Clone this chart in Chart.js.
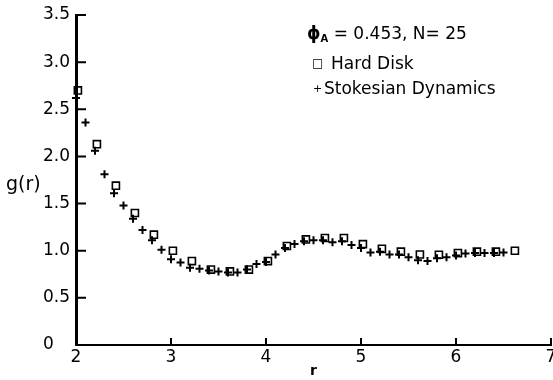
<!DOCTYPE html>
<html>
<head>
<meta charset="utf-8">
<script src="https://cdn.jsdelivr.net/npm/chart.js@4"></script>
<style>
  body { margin: 0; background: #fff; overflow: hidden; }
  #wrap { position: relative; width: 565px; height: 380px; }
  .lbl { position: absolute; font-family: "DejaVu Sans", sans-serif; color: #000; white-space: nowrap; }
  #ytitle { left: 6px; top: 172px; font-size: 19px; }
  #legend { left: 307px; top: 21px; font-size: 17px; line-height: 25px; }
  #legend .phi { font-weight: bold; }
  #legend sub { font-size: 10px; font-weight: bold; vertical-align: -3px; }
  #legend .sq { display: inline-block; width: 19px; margin-left: 5px; font-size: 12px; vertical-align: 2px; }
  #legend .pl { display: inline-block; width: 11px; margin-left: 6px; font-size: 11px; vertical-align: 2px; }
</style>
</head>
<body>
<div id="wrap">
  <canvas id="gr"></canvas>
  <div class="lbl" id="ytitle">g(r)</div>
  <div class="lbl" id="legend">
    <div><span class="phi">ϕ</span><sub>A</sub> = 0.453, N= 25</div>
    <div><span class="sq">□</span>Hard Disk</div>
    <div><span class="pl">+</span>Stokesian Dynamics</div>
  </div>
</div>
<script>
// hard disk g(r)
const hardR = [2.02, 2.22, 2.42, 2.62, 2.82, 3.02, 3.22, 3.42, 3.62, 3.82, 4.02, 4.22,
               4.42, 4.62, 4.82, 5.02, 5.22, 5.42, 5.62, 5.82, 6.02, 6.22, 6.42, 6.62];
const hardG = [2.70, 2.13, 1.69, 1.40, 1.17, 1.00, 0.89, 0.80, 0.78, 0.80, 0.89, 1.05,
               1.12, 1.135, 1.135, 1.07, 1.02, 0.99, 0.96, 0.957, 0.975, 0.99, 0.99, 1.00];

// stokesian dynamics g(r)
const stokesR = [2.0, 2.1, 2.2, 2.3, 2.4, 2.5, 2.6, 2.7, 2.8, 2.9,
                 3.0, 3.1, 3.2, 3.3, 3.4, 3.5, 3.6, 3.7, 3.8, 3.9,
                 4.0, 4.1, 4.2, 4.3, 4.4, 4.5, 4.6, 4.7, 4.8, 4.9,
                 5.0, 5.1, 5.2, 5.3, 5.4, 5.5, 5.6, 5.7, 5.8, 5.9,
                 6.0, 6.1, 6.2, 6.3, 6.4, 6.5];
const stokesG = [2.62, 2.36, 2.06, 1.81, 1.61, 1.48, 1.34, 1.22, 1.11, 1.01,
                 0.91, 0.875, 0.82, 0.81, 0.79, 0.78, 0.77, 0.77, 0.80, 0.86,
                 0.88, 0.96, 1.03, 1.07, 1.10, 1.11, 1.11, 1.09, 1.10, 1.06,
                 1.03, 0.98, 0.99, 0.96, 0.96, 0.93, 0.90, 0.89, 0.92, 0.93,
                 0.95, 0.97, 0.975, 0.975, 0.975, 0.98];

const xTicks = [2, 3, 4, 5, 6, 7];
const yTicks = [0, 0.5, 1.0, 1.5, 2.0, 2.5, 3.0, 3.5];

const font = { family: 'DejaVu Sans', size: 17 };

// ticks in the figure point into the plot
const inwardTicks = {
  id: 'inwardTicks',
  afterDraw(chart) {
    const c = chart.ctx;
    const xs = chart.scales.x, ys = chart.scales.y;
    c.save();
    c.strokeStyle = '#000';
    c.lineWidth = 2;
    c.beginPath();
    yTicks.forEach(v => {
      if (v === 0) return;
      const py = ys.getPixelForValue(v);
      c.moveTo(xs.left, py);
      c.lineTo(xs.left + 10, py);
    });
    xTicks.forEach(v => {
      if (v === 2) return;
      const px = xs.getPixelForValue(v);
      c.moveTo(px, ys.bottom);
      c.lineTo(px, ys.bottom - 7);
    });
    c.stroke();
    c.restore();
  }
};

const ctx = document.getElementById('gr').getContext('2d');
const chart = new Chart(ctx, {
  type: 'scatter',
  data: {
    datasets: [
      {
        label: 'Hard Disk',
        data: hardR.map((r, i) => ({ x: r, y: hardG[i] })),
        pointStyle: 'rect',
        pointRadius: 5,
        borderColor: '#000',
        backgroundColor: 'rgba(0,0,0,0)',
        borderWidth: 1.6
      },
      {
        label: 'Stokesian Dynamics',
        data: stokesR.map((r, i) => ({ x: r, y: stokesG[i] })),
        pointStyle: 'cross',
        pointRadius: 4,
        borderColor: '#000',
        borderWidth: 2
      }
    ]
  },
  options: {
    responsive: true,
    maintainAspectRatio: false,
    animation: false,
    clip: false,
    layout: { padding: { left: 43, right: 14, top: 15, bottom: 0 } },
    plugins: {
      legend: { display: false },
      tooltip: { enabled: false }
    },
    scales: {
      x: {
        type: 'linear',
        min: 2,
        max: 7,
        afterBuildTicks: s => { s.ticks = xTicks.map(v => ({ value: v })); },
        afterFit: s => { s.height = 35; },
        grid: { display: false, drawTicks: false },
        border: { color: '#000', width: 2 },
        ticks: { color: '#000', font: font, padding: 2 },
        title: { display: true, text: 'r', color: '#000', padding: 0,
                 font: { family: 'DejaVu Sans', size: 14, weight: 'bold' } }
      },
      y: {
        min: 0,
        max: 3.5,
        afterBuildTicks: s => { s.ticks = yTicks.map(v => ({ value: v })); },
        afterFit: s => { s.width = 33; },
        grid: { display: false, drawTicks: false },
        border: { color: '#000', width: 3 },
        ticks: {
          color: '#000',
          font: font,
          crossAlign: 'far',
          callback: v => v === 0 ? '0' : v.toFixed(1)
        }
      }
    }
  },
  plugins: [inwardTicks]
});
</script>
</body>
</html>
